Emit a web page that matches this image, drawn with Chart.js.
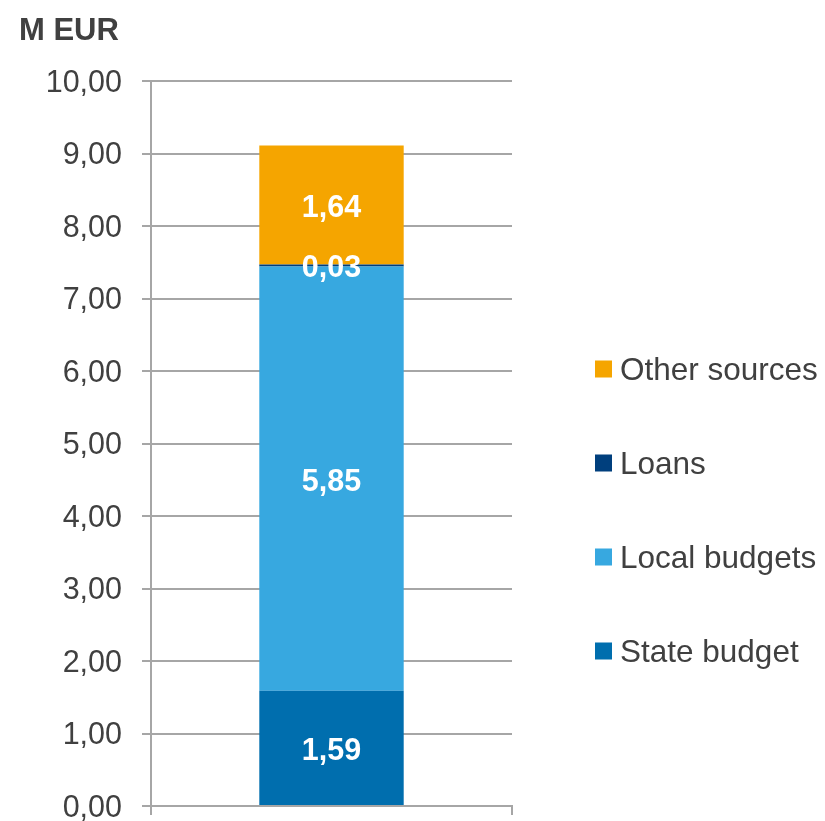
<!DOCTYPE html>
<html>
<head>
<meta charset="utf-8">
<title>Financing sources</title>
<script src="https://cdn.jsdelivr.net/npm/chart.js@4/dist/chart.umd.min.js"></script>
<style>
  html, body { margin: 0; padding: 0; background: #fff; }
  #wrap { width: 825px; height: 821px; }
</style>
</head>
<body>
<div id="wrap"><canvas id="fundChart" width="825" height="821"></canvas></div>
<script>
// Data
const categories = [''];
const seriesNames = ['State budget', 'Local budgets', 'Loans', 'Other sources'];
const stateBudget = [1.59];
const localBudgets = [5.85];
const loans = [0.03];
const otherSources = [1.64];
const seriesColors = ['#006eae', '#37a8e0', '#003f7d', '#f5a500'];
const yTicks = [0, 1, 2, 3, 4, 5, 6, 7, 8, 9, 10];
const unitLabel = 'M EUR';

const FONT = '"Liberation Sans", Arial, sans-serif';
const TEXT_COLOR = '#404040';
const GRID_COLOR = '#a6a6a6';

const fmt = v => Number(v).toFixed(2).replace('.', ',');

// white value labels centred in each stacked segment
const segmentLabels = {
  id: 'segmentLabels',
  afterDatasetsDraw(chart){
    const ctx = chart.ctx;
    ctx.save();
    ctx.fillStyle = '#ffffff';
    ctx.font = 'bold 30.5px ' + FONT;
    ctx.textAlign = 'center';
    ctx.textBaseline = 'middle';
    chart.data.datasets.forEach((ds, i) => {
      const meta = chart.getDatasetMeta(i);
      meta.data.forEach((bar, j) => {
        const p = bar.getProps(['x', 'y', 'base'], true);
        ctx.fillText(fmt(ds.data[j]), p.x, (p.y + p.base) / 2 + 3.5);
      });
    });
    ctx.restore();
  }
};

// unit title and right-hand legend (top series first)
const sideBits = {
  id: 'sideBits',
  afterDraw(chart){
    const ctx = chart.ctx;
    ctx.save();
    ctx.fillStyle = TEXT_COLOR;
    ctx.font = 'bold 31px ' + FONT;
    ctx.textAlign = 'left';
    ctx.textBaseline = 'middle';
    ctx.fillText(unitLabel, 19, 31.5);

    ctx.font = '31.5px ' + FONT;
    const ds = chart.data.datasets;
    let row = 0;
    for (let i = ds.length - 1; i >= 0; i--) {
      const cy = 369 + row * 94;
      ctx.fillStyle = ds[i].backgroundColor;
      ctx.fillRect(595, cy - 8.5, 17, 17);
      ctx.fillStyle = TEXT_COLOR;
      ctx.fillText(ds[i].label, 620, cy + 2);
      row++;
    }
    ctx.restore();
  }
};

const seriesData = [stateBudget, localBudgets, loans, otherSources];

new Chart(document.getElementById('fundChart'), {
  type: 'bar',
  data: {
    labels: categories,
    datasets: seriesNames.map((name, i) => ({
      label: name,
      data: seriesData[i],
      backgroundColor: seriesColors[i],
      borderWidth: 0,
      barPercentage: 0.4,
      categoryPercentage: 1
    }))
  },
  options: {
    responsive: false,
    animation: false,
    layout: { padding: { top: 81, left: 0, right: 313, bottom: 6 } },
    plugins: {
      legend: { display: false },
      tooltip: { enabled: false }
    },
    scales: {
      x: {
        stacked: true,
        afterFit: axis => { axis.height = 9; },
        grid: { drawOnChartArea: false, drawTicks: true, tickLength: 9, color: GRID_COLOR, lineWidth: 2 },
        border: { display: true, color: GRID_COLOR, width: 2 },
        ticks: { display: false }
      },
      y: {
        stacked: true,
        min: 0,
        max: 10,
        afterBuildTicks: axis => { axis.ticks = yTicks.map(v => ({ value: v })); },
        afterFit: axis => {
          axis.width = 151;
          // labels overhang is covered by the layout padding
          axis.paddingTop = 0;
          axis.paddingBottom = 0;
        },
        grid: { color: GRID_COLOR, lineWidth: 2, tickLength: 9 },
        border: { display: true, color: GRID_COLOR, width: 2 },
        ticks: {
          padding: 20,
          labelOffset: 2.5,
          color: TEXT_COLOR,
          font: { family: FONT, size: 30.5 },
          callback: v => fmt(v)
        }
      }
    }
  },
  plugins: [segmentLabels, sideBits]
});
</script>
</body>
</html>
